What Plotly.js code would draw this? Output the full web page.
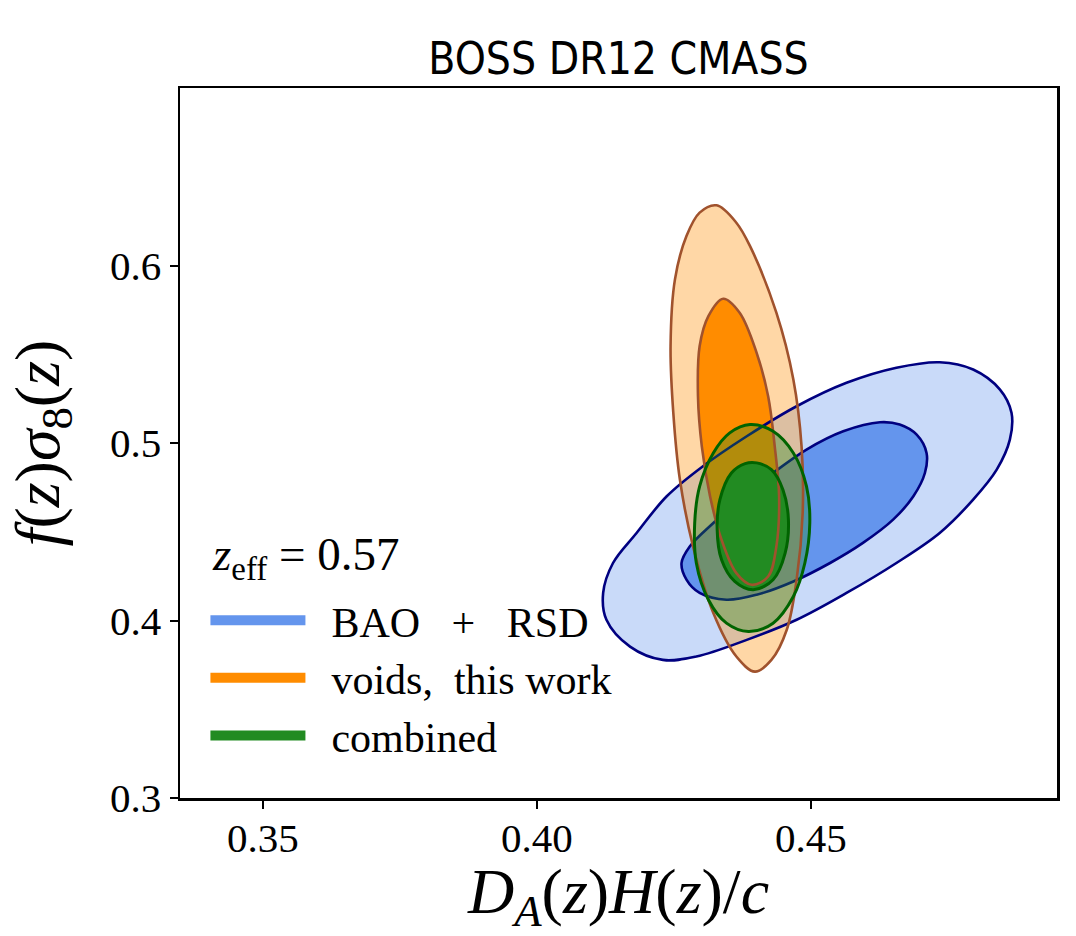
<!DOCTYPE html>
<html>
<head>
<meta charset="utf-8">
<script src="https://cdn.plot.ly/plotly-3.0.1.min.js"></script>
<style>html,body{margin:0;padding:0;background:#fff;}#chart{width:1076px;height:936px;}</style>
</head>
<body>
<div id="chart"></div>
<script>
// Contour outlines (data coordinates)
const baoOuterX = [0.4735,0.4796,0.4845,0.4866,0.4863,0.4839,0.4796,0.4735,0.4656,0.4565,0.4474,0.4383,0.4291,0.4230,0.4170,0.4127,0.4121,0.4139,0.4182,0.4237,0.4303,0.4383,0.4474,0.4565,0.4656];
const baoOuterY = [0.5455,0.5414,0.5301,0.5170,0.5019,0.4850,0.4681,0.4493,0.4324,0.4155,0.4004,0.3891,0.3797,0.3778,0.3853,0.4004,0.4155,0.4324,0.4493,0.4700,0.4869,0.5038,0.5207,0.5339,0.5424];
const baoInnerX = [0.4626,0.4662,0.4693,0.4711,0.4708,0.4687,0.4650,0.4595,0.4535,0.4468,0.4401,0.4346,0.4297,0.4273,0.4264,0.4279,0.4322,0.4370,0.4431,0.4492,0.4559];
const baoInnerY = [0.5117,0.5104,0.5047,0.4944,0.4831,0.4700,0.4568,0.4437,0.4324,0.4220,0.4145,0.4117,0.4155,0.4230,0.4324,0.4417,0.4549,0.4681,0.4831,0.4963,0.5066];
const voidOuterX = [0.4328,0.4364,0.4389,0.4437,0.4468,0.4483,0.4485,0.4474,0.4456,0.4428,0.4398,0.4364,0.4322,0.4285,0.4261,0.4249,0.4244,0.4252,0.4273,0.4297];
const voidOuterY = [0.6339,0.6241,0.6109,0.5734,0.5358,0.4981,0.4606,0.4230,0.3948,0.3778,0.3712,0.3797,0.4042,0.4417,0.4794,0.5170,0.5545,0.5922,0.6166,0.6298];
const voidInnerX = [0.4340,0.4370,0.4401,0.4422,0.4434,0.4442,0.4437,0.4422,0.4392,0.4364,0.4337,0.4316,0.4301,0.4294,0.4297,0.4313];
const voidInnerY = [0.5813,0.5734,0.5508,0.5263,0.4981,0.4700,0.4417,0.4248,0.4201,0.4267,0.4455,0.4700,0.4981,0.5263,0.5545,0.5715];
const combOuterX = [0.4389,0.4431,0.4468,0.4492,0.4498,0.4489,0.4468,0.4431,0.4386,0.4346,0.4313,0.4291,0.4288,0.4297,0.4322,0.4352];
const combOuterY = [0.5104,0.5066,0.4944,0.4756,0.4549,0.4324,0.4135,0.3985,0.3938,0.3985,0.4117,0.4324,0.4549,0.4756,0.4944,0.5057];
const combInnerX = [0.4401,0.4428,0.4449,0.4459,0.4453,0.4431,0.4395,0.4361,0.4337,0.4329,0.4334,0.4355,0.4380];
const combInnerY = [0.4888,0.4850,0.4737,0.4568,0.4380,0.4230,0.4173,0.4220,0.4342,0.4512,0.4681,0.4831,0.4884];

const seriesNames = ["BAO&nbsp;&nbsp;&nbsp;+&nbsp;&nbsp;&nbsp;RSD", "voids,&nbsp;&nbsp;this&nbsp;work", "combined"];
const xTicks = [0.35, 0.40, 0.45];
const yTicks = [0.3, 0.4, 0.5, 0.6];
const titleText = "BOSS DR12 CMASS";
const zeffText = "<i>z</i><sub>eff</sub>&nbsp;=&nbsp;0.57";

function closed(a){ return a.concat([a[0]]); }

const C = {
  blue:'#6495ED', blueLight:'rgba(100,149,237,0.35)', navy:'#000080',
  orange:'#FF8C00', orangeLight:'rgba(255,140,0,0.35)', sienna:'#A0522D',
  green:'#228B22', greenLight:'rgba(34,139,34,0.35)', dgreen:'#006400'
};

function fillTrace(x,y,color){
  return {x:closed(x), y:closed(y), type:'scatter', mode:'lines', fill:'toself',
    fillcolor:color, line:{width:0, shape:'spline', smoothing:1, color:'rgba(0,0,0,0)'},
    showlegend:false, hoverinfo:'skip'};
}
function lineTrace(x,y,color,w){
  return {x:closed(x), y:closed(y), type:'scatter', mode:'lines',
    line:{width:w, shape:'spline', smoothing:1, color:color},
    showlegend:false, hoverinfo:'skip'};
}
function legendTrace(name,color,g){
  return {x:[null], y:[null], type:'scatter', mode:'lines', name:'&nbsp;&nbsp;' + name,
    legendgroup:g, line:{width:10, color:color}, showlegend:true, hoverinfo:'skip'};
}

const data = [
  fillTrace(baoOuterX, baoOuterY, C.blueLight),
  fillTrace(baoInnerX, baoInnerY, C.blue),
  fillTrace(voidOuterX, voidOuterY, C.orangeLight),
  fillTrace(voidInnerX, voidInnerY, C.orange),
  lineTrace(baoOuterX, baoOuterY, C.navy, 2.6),
  lineTrace(baoInnerX, baoInnerY, C.navy, 2.6),
  fillTrace(combOuterX, combOuterY, C.greenLight),
  fillTrace(combInnerX, combInnerY, C.green),
  lineTrace(voidOuterX, voidOuterY, C.sienna, 2.6),
  lineTrace(voidInnerX, voidInnerY, C.sienna, 2.6),
  lineTrace(combOuterX, combOuterY, C.dgreen, 3),
  lineTrace(combInnerX, combInnerY, C.dgreen, 3),
  legendTrace(seriesNames[0], C.blue, 'a'),
  legendTrace(seriesNames[1], C.orange, 'b'),
  legendTrace(seriesNames[2], C.green, 'c')
];

const serif = 'Liberation Serif, Times New Roman, serif';
const layout = {
  width:1076, height:936,
  margin:{l:180, r:19, t:88, b:138},
  paper_bgcolor:'#fff', plot_bgcolor:'#fff',
  title:{text:titleText, font:{family:'DejaVu Sans Condensed, DejaVu Sans, sans-serif', size:44, color:'#000'},
    x:0.5, xref:'paper', y:1, yref:'container', yanchor:'top', pad:{t:43}},
  xaxis:{range:[0.3349,0.4949], tickvals:xTicks, tickformat:'.2f', ticks:'outside', ticklen:8, tickwidth:2,
    tickcolor:'#000', showline:true, mirror:true, linecolor:'#000', linewidth:2.5, showgrid:false, zeroline:false,
    ticklabelstandoff:-6,
    tickfont:{family:serif, size:41, color:'#000'},
    title:{text:'<i>D</i><sub><i>A</i></sub>(<i>z</i>)<i>H</i>(<i>z</i>)/<i>c</i>', font:{family:serif, size:64, color:'#000'}, standoff:0}},
  yaxis:{range:[0.3,0.7], tickvals:yTicks, tickformat:'.1f', ticks:'outside', ticklen:8, tickwidth:2,
    tickcolor:'#000', showline:true, mirror:true, linecolor:'#000', linewidth:2.5, showgrid:false, zeroline:false,
    tickfont:{family:serif, size:41, color:'#000'},
    title:{text:'<i>f</i>(<i>z</i>)<i>σ</i><sub>8</sub>(<i>z</i>)', font:{family:serif, size:64, color:'#000'}, standoff:30}},
  showlegend:true,
  legend:{x:0.029, xanchor:'left', y:0.298, yanchor:'top', bgcolor:'rgba(0,0,0,0)', borderwidth:0,
    font:{family:serif, size:42, color:'#000'}, itemwidth:95, traceorder:'grouped', tracegroupgap:0},
  annotations:[{text:zeffText, xref:'paper', yref:'paper', x:0.034, y:0.339, xanchor:'left', yanchor:'middle',
    showarrow:false, font:{family:serif, size:47, color:'#000'}}]
};

Plotly.newPlot('chart', data, layout, {displayModeBar:false, staticPlot:true});
</script>
</body>
</html>
